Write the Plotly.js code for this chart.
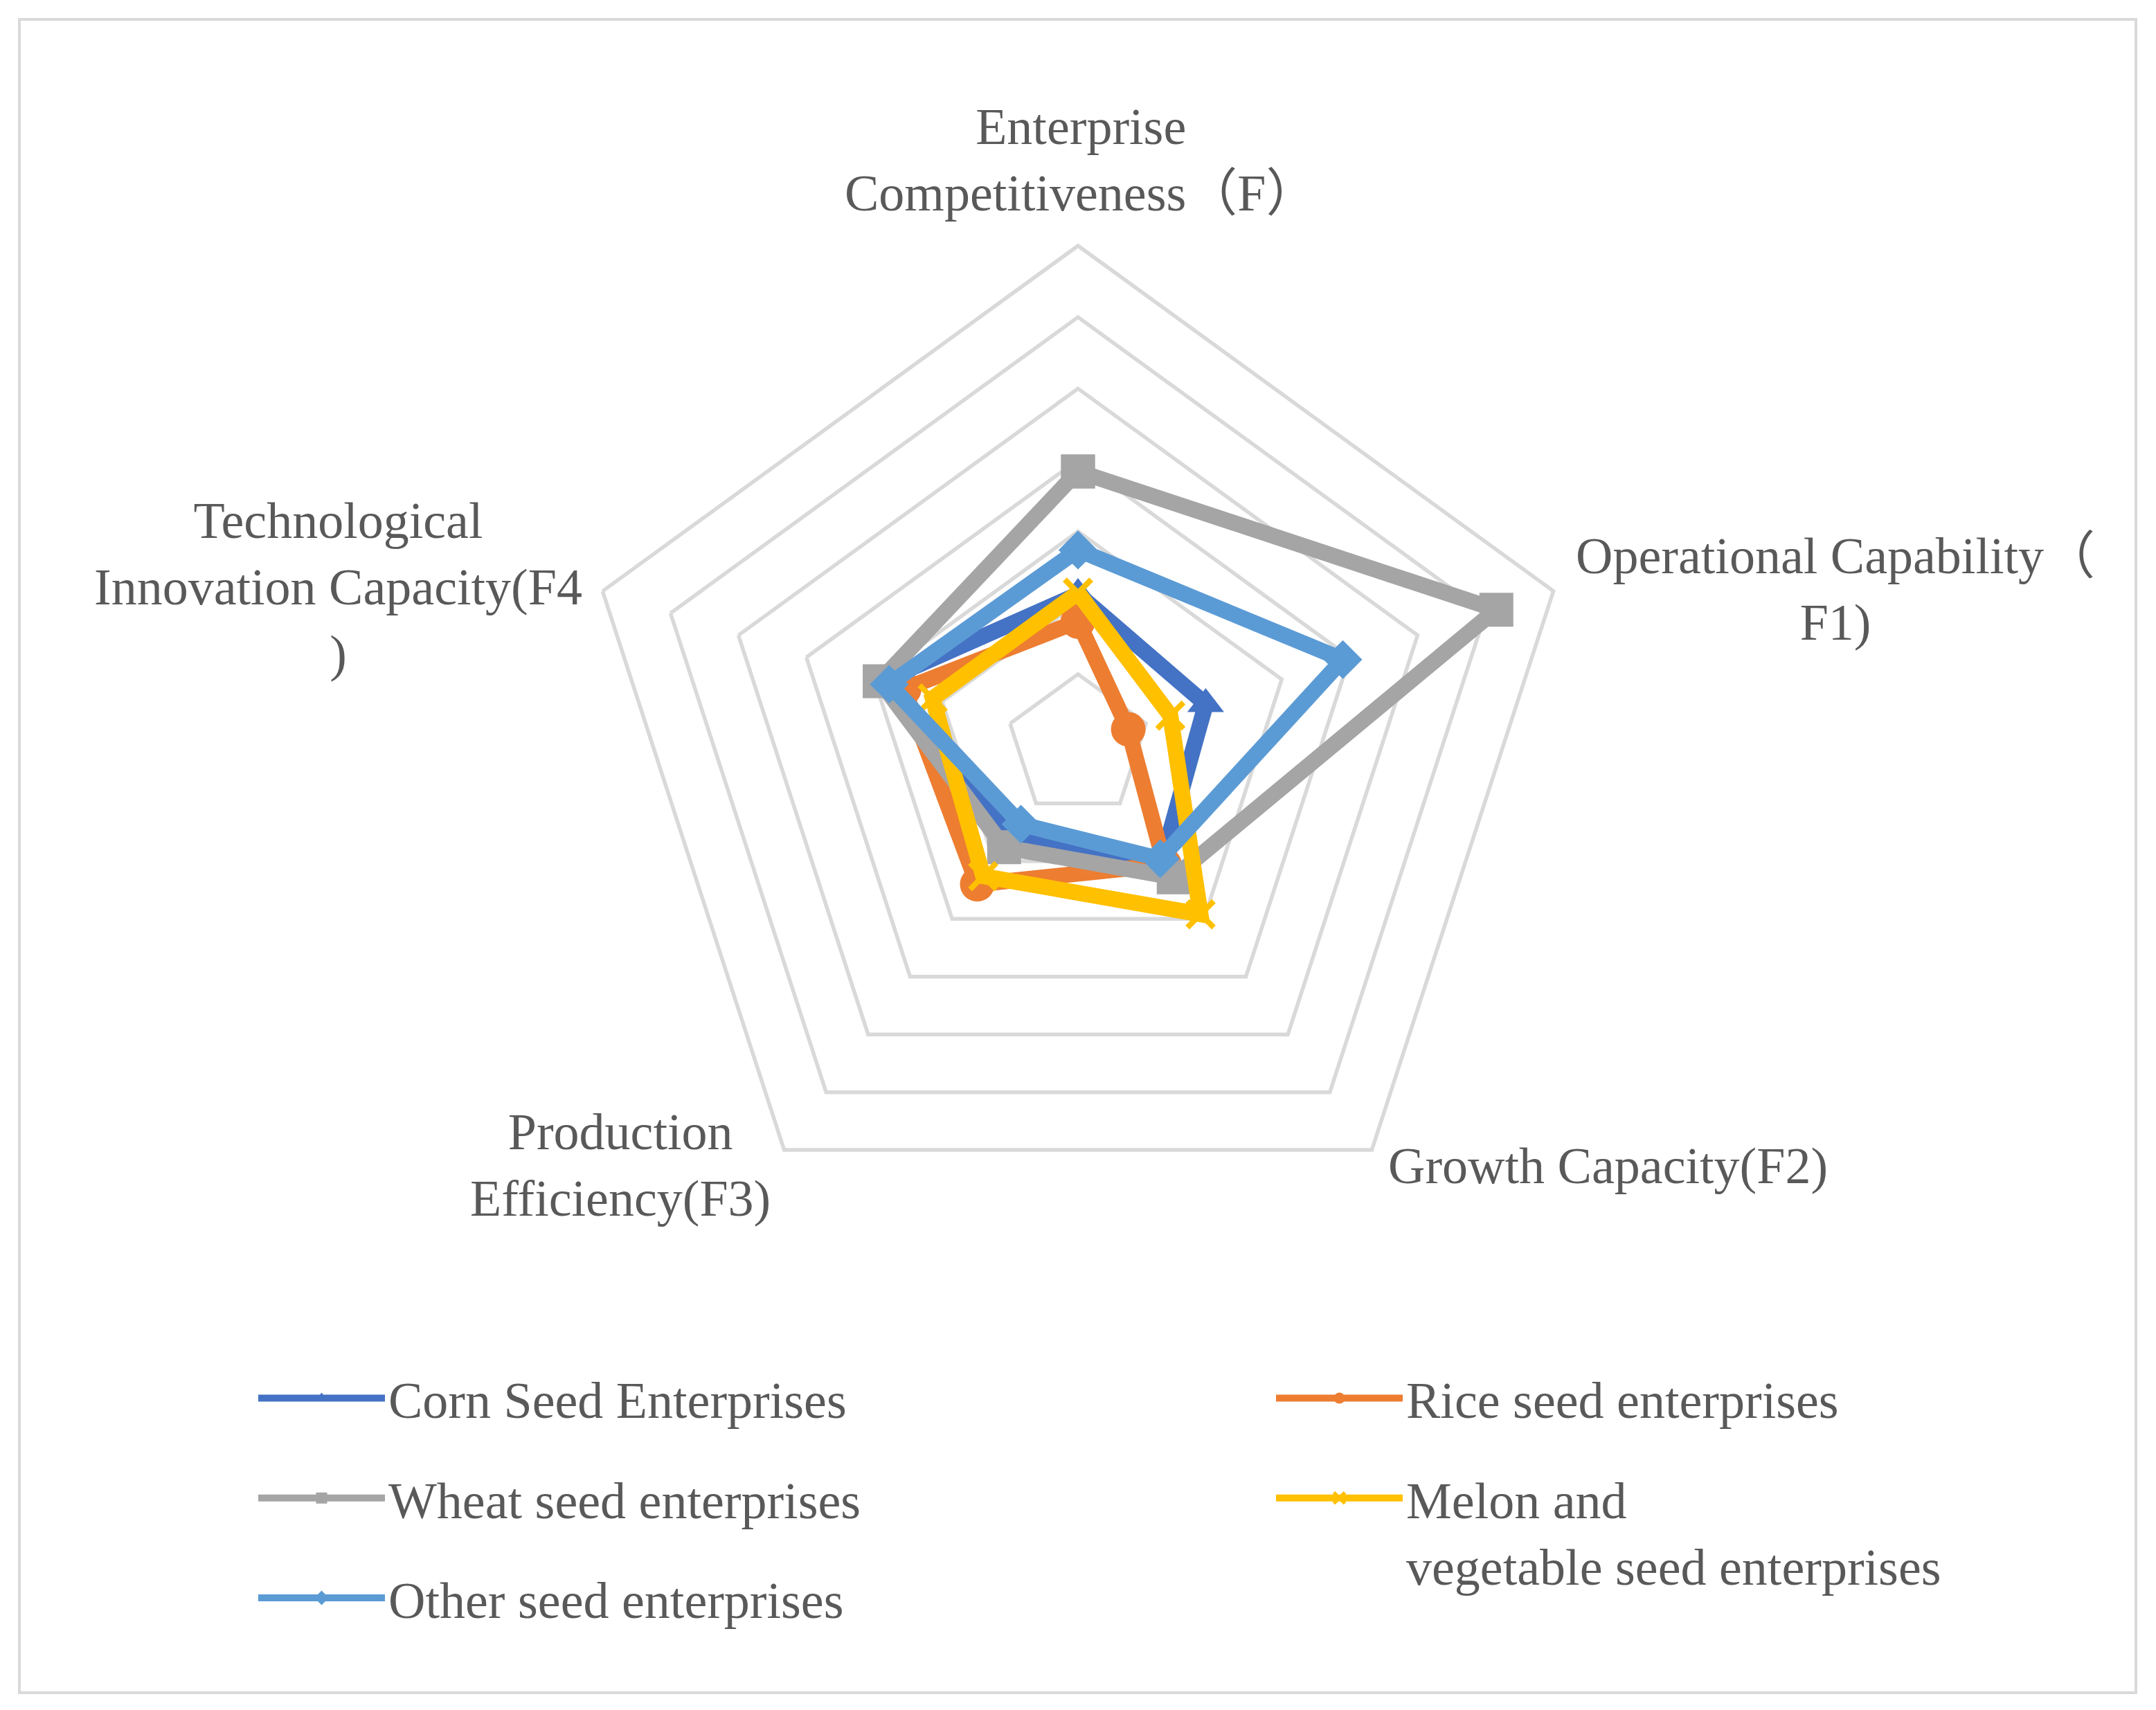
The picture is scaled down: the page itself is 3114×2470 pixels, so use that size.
<!DOCTYPE html>
<html>
<head>
<meta charset="utf-8">
<script src="https://cdn.plot.ly/plotly-3.0.1.min.js"></script>
<style>
  html, body { margin: 0; padding: 0; background: #ffffff; }
  #chart { width: 3114px; height: 2470px; }
</style>
</head>
<body>
<div id="chart"></div>
<script>
// ---- Data (unlabeled radial scale 0..3.5) ----
var categories = ['F', 'F1', 'F2', 'F3', 'F4'];
var axisLabels = [
  'Enterprise<br>Competitiveness（F）',
  'Operational Capability（<br>F1)',
  'Growth Capacity(F2)',
  'Production<br>Efficiency(F3)',
  'Technological<br>Innovation Capacity(F4<br>)'
];
var seriesNames = [
  'Corn Seed Enterprises',
  'Rice seed enterprises',
  'Wheat seed enterprises',
  'Melon and<br>vegetable seed enterprises',
  'Other seed enterprises'
];
var cornValues  = [1.06, 0.94, 1.00, 0.76, 1.45];
var riceValues  = [0.87, 0.37, 1.03, 1.20, 1.28];
var wheatValues = [1.92, 3.08, 1.14, 0.88, 1.46];
var melonValues = [1.07, 0.68, 1.46, 1.13, 1.07];
var otherValues = [1.37, 1.95, 0.98, 0.68, 1.39];
var radialMin = 0, radialMax = 3.5, radialStep = 0.5;

// ---- Styles ----
var W = 3114, H = 2470;
var fontFamily = 'Liberation Serif, Times New Roman, Noto Sans CJK SC, serif';
var textColor = '#595959';
var gridColor = '#D9D9D9';

var styles = [
  {color: '#4472C4', symbol: 'triangle-up', size: 46, legend: 'legend'},
  {color: '#ED7D31', symbol: 'circle', size: 50, legend: 'legend2'},
  {color: '#A5A5A5', symbol: 'square', size: 49, legend: 'legend'},
  {color: '#FFC000', symbol: 'x-thin', size: 38, legend: 'legend2', lineW: 8},
  {color: '#5B9BD5', symbol: 'diamond', size: 43, legend: 'legend'}
];
var allValues = [cornValues, riceValues, wheatValues, melonValues, otherValues];

function closeLoop(arr) { return arr.concat([arr[0]]); }

var traces = allValues.map(function (vals, i) {
  var s = styles[i];
  return {
    type: 'scatterpolar',
    mode: 'lines+markers',
    name: seriesNames[i],
    r: closeLoop(vals),
    theta: closeLoop(categories),
    legend: s.legend,
    legendgroup: 'g' + i,
    cliponaxis: false,
    line: {color: s.color, width: 23},
    marker: {
      symbol: s.symbol,
      size: s.size,
      color: s.color,
      line: {color: s.color, width: s.lineW || 0}
    },
    hoverinfo: 'skip'
  };
});

// label placement (paper coordinates, pixel-derived)
var labelPos = [
  {x: 1561, y: 231},
  {x: 2651, y: 851},
  {x: 2322, y: 1684},
  {x: 896,  y: 1683},
  {x: 488,  y: 848}
];
var annotations = axisLabels.map(function (t, i) {
  return {
    text: t,
    xref: 'paper', yref: 'paper',
    x: labelPos[i].x / W,
    y: 1 - labelPos[i].y / H,
    xanchor: 'center', yanchor: 'middle',
    align: 'center',
    showarrow: false,
    font: {family: fontFamily, size: 74, color: textColor}
  };
});

var cx = 1557, cy = 1077, R = 722;

var legendCommon = {
  y: 1 - 1965 / H, yanchor: 'top',
  xanchor: 'left',
  orientation: 'v',
  traceorder: 'grouped',
  tracegroupgap: 45,
  itemwidth: 183,
  valign: 'top',
  bgcolor: 'rgba(0,0,0,0)',
  font: {family: fontFamily, size: 74, color: textColor}
};

var layout = {
  width: W, height: H,
  margin: {l: 0, r: 0, t: 0, b: 0},
  paper_bgcolor: '#ffffff',
  plot_bgcolor: '#ffffff',
  font: {family: fontFamily, size: 74, color: textColor},
  polar: {
    domain: {
      x: [(cx - R) / W, (cx + R) / W],
      y: [1 - (cy + R) / H, 1 - (cy - R) / H]
    },
    bgcolor: '#ffffff',
    gridshape: 'linear',
    radialaxis: {
      range: [radialMin, radialMax],
      tick0: radialMin,
      dtick: radialStep,
      showticklabels: false,
      ticks: '',
      showline: false,
      gridcolor: gridColor,
      gridwidth: 5.5,
      angle: 90
    },
    angularaxis: {
      direction: 'clockwise',
      rotation: 90,
      showgrid: false,
      showticklabels: false,
      ticks: '',
      showline: true,
      linecolor: gridColor,
      linewidth: 5.5
    }
  },
  legend: Object.assign({}, legendCommon, {x: 368 / W}),
  legend2: Object.assign({}, legendCommon, {x: 1838 / W}),
  annotations: annotations,
  shapes: [{
    type: 'rect', xref: 'paper', yref: 'paper',
    x0: 28 / W, x1: 3085 / W, y0: 1 - 2445 / H, y1: 1 - 28 / H,
    line: {color: gridColor, width: 4}
  }]
};

Plotly.newPlot('chart', traces, layout, {staticPlot: true, displayModeBar: false});
</script>
</body>
</html>
